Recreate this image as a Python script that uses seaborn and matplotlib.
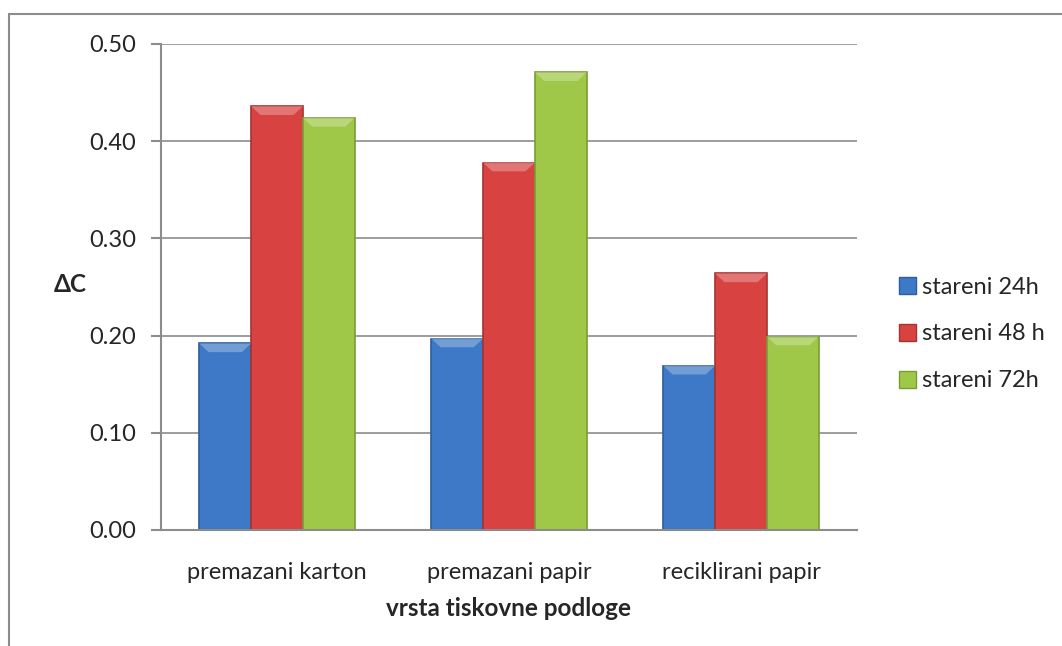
import pandas as pd
import matplotlib.pyplot as plt
import seaborn as sns
from matplotlib.lines import Line2D
from matplotlib.patches import Polygon
import matplotlib.colors as mcolors

# data
categories = ['premazani karton', 'premazani papir', 'reciklirani papir']
series = ['stareni 24h', 'stareni 48 h', 'stareni 72h']
vals_24h = [0.192, 0.197, 0.169]
vals_48h = [0.436, 0.378, 0.264]
vals_72h = [0.424, 0.471, 0.199]
colors = ['#3d79c6', '#d84241', '#9fc848']
edges = ['#2d5e9c', '#a53331', '#7a9c34']

df = pd.DataFrame({
    'podloga': categories * 3,
    'serija': [s for s in series for _ in categories],
    'dC': vals_24h + vals_48h + vals_72h,
})

sns.set_style('white')
plt.rcParams['font.family'] = ['Lato', 'DejaVu Sans']

fig = plt.figure(figsize=(10.62, 6.46), dpi=100)
ax = fig.add_axes([161 / 1062, 1 - 530 / 646, (857 - 161) / 1062, (530 - 44) / 646])

sns.barplot(data=df, x='podloga', y='dC', hue='serija', order=categories,
            hue_order=series, palette=colors, saturation=1, width=0.67, gap=0,
            errorbar=None, ax=ax, legend=False, linewidth=0)

ax.set_ylim(0, 0.5)
ax.set_xlim(-0.5, 2.5)

# darker edge per series plus a lighter bevel at the top of each bar
bevel = 0.5 * 0.018  # height of the bevel in data units
for cont, ec, fc in zip(ax.containers, edges, colors):
    light = tuple(min(1, c + 0.5 * (1 - c)) for c in mcolors.to_rgb(fc))
    for bar in cont:
        bar.set_edgecolor(ec)
        bar.set_linewidth(1.2)
        x0, w, h = bar.get_x(), bar.get_width(), bar.get_height()
        inset = w * 0.18
        poly = Polygon([(x0, h), (x0 + w, h), (x0 + w - inset, h - bevel), (x0 + inset, h - bevel)],
                       closed=True, facecolor=light, edgecolor='none', alpha=0.55, zorder=bar.get_zorder() + 0.1)
        ax.add_patch(poly)

ax.set_yticks([0, 0.1, 0.2, 0.3, 0.4, 0.5])
ax.set_yticklabels(['0.00', '0.10', '0.20', '0.30', '0.40', '0.50'], fontsize=17)
ax.set_xticks([0, 1, 2])
ax.set_xticklabels(categories, fontsize=17)
ax.set_xticks([-0.5, 0.5, 1.5, 2.5], minor=True)
ax.tick_params(axis='x', which='major', length=0, pad=23)
ax.tick_params(axis='x', which='minor', length=7, width=1.5, color='#8c8c8c', direction='out')
ax.tick_params(axis='y', length=7, width=1.5, color='#8c8c8c', direction='out', pad=11, left=True)

ax.yaxis.grid(True, color='#8c8c8c', linewidth=1.2)
ax.set_axisbelow(True)
for side in ['top', 'right']:
    ax.spines[side].set_visible(False)
for side in ['left', 'bottom']:
    ax.spines[side].set_color('#8c8c8c')
    ax.spines[side].set_linewidth(1.5)

ax.set_xlabel('vrsta tiskovne podloge', fontsize=17.5, fontweight='bold', labelpad=10)
ax.set_ylabel('ΔC', fontsize=17.5, fontweight='bold', rotation=0, va='center')
ax.yaxis.set_label_coords(-0.13, 0.505)

handles = [plt.Rectangle((0, 0), 1, 1, facecolor=c, edgecolor=e) for c, e in zip(colors, edges)]
fig.legend(handles, series, loc='center left', bbox_to_anchor=(890 / 1062, 1 - 334 / 646),
           frameon=False, fontsize=17, handlelength=0.72, handleheight=0.72,
           handletextpad=0.25, labelspacing=1.1, borderaxespad=0)

# outer chart border
fig.add_artist(Line2D([9 / 1062, 9 / 1062], [0, 1 - 14 / 646], color='#8c8c8c', linewidth=1.5))
fig.add_artist(Line2D([9 / 1062, 1], [1 - 14 / 646, 1 - 14 / 646], color='#8c8c8c', linewidth=1.5))

fig.savefig('out.png', dpi=100)
